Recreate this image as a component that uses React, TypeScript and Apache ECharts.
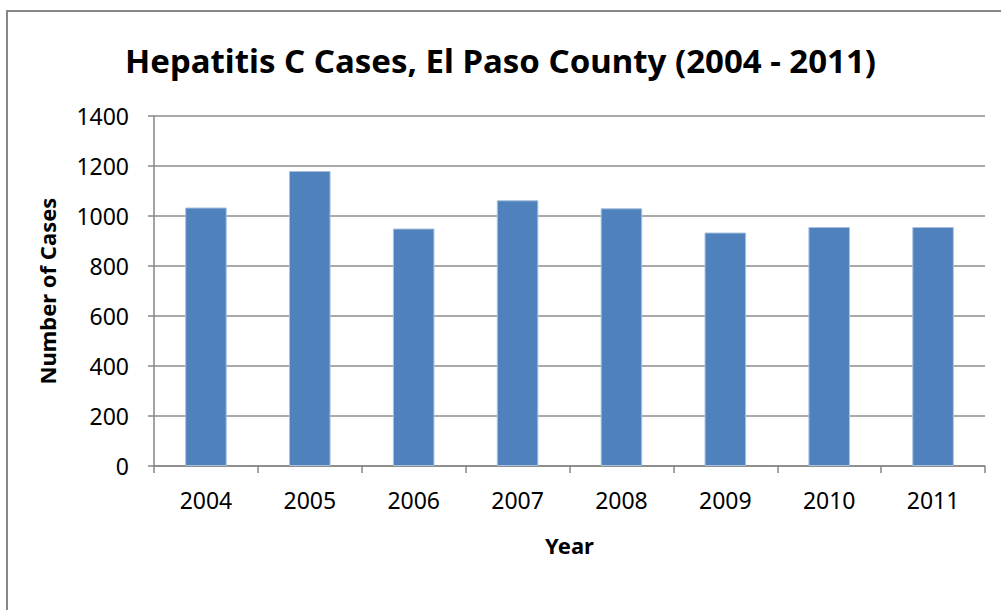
import React, { useEffect, useRef } from "react";
import * as echarts from "echarts";

const years = ["2004", "2005", "2006", "2007", "2008", "2009", "2010", "2011"];
const cases = [1034, 1180, 950, 1063, 1031, 934, 956, 956];
const yTicks = { min: 0, max: 1400, interval: 200 };

export default function App() {
  const ref = useRef<HTMLDivElement>(null);
  useEffect(() => {
    const chart = echarts.init(ref.current!, null, { renderer: "svg" });
    const font = "'Noto Sans', sans-serif";
    chart.setOption({
      animation: false,
      backgroundColor: "#ffffff",
      title: {
        text: "Hepatitis C Cases, El Paso County (2004 - 2011)",
        left: "center",
        top: 39,
        textStyle: { fontFamily: font, fontWeight: "bold", fontSize: 33, color: "#000" },
      },
      graphic: [
        {
          type: "rect",
          shape: { x: 7, y: 11, width: 1010, height: 620 },
          style: { fill: "none", stroke: "#878787", lineWidth: 2 },
          silent: true,
        },
      ],
      grid: { left: 154, right: 16, top: 116, bottom: 144, containLabel: false },
      xAxis: {
        type: "category",
        data: years,
        name: "Year",
        nameLocation: "middle",
        nameGap: 68,
        nameTextStyle: { fontFamily: font, fontWeight: "bold", fontSize: 22, color: "#000" },
        axisLine: { lineStyle: { color: "#868686", width: 1.5 } },
        axisTick: { show: true, alignWithLabel: false, length: 7, lineStyle: { color: "#868686", width: 1.5 } },
        axisLabel: { fontFamily: font, fontSize: 23, color: "#000", margin: 22 },
      },
      yAxis: {
        type: "value",
        min: yTicks.min,
        max: yTicks.max,
        interval: yTicks.interval,
        name: "Number of Cases",
        nameLocation: "middle",
        nameRotate: 90,
        nameGap: 96,
        nameTextStyle: { fontFamily: font, fontWeight: "bold", fontSize: 22, color: "#000" },
        axisLine: { show: true, lineStyle: { color: "#868686", width: 1.5 } },
        axisTick: { show: true, length: 6, lineStyle: { color: "#868686", width: 1.5 } },
        axisLabel: { fontFamily: font, fontSize: 23, color: "#000", margin: 25, formatter: (v: number) => String(v) },
        splitLine: { show: true, lineStyle: { color: "#8c8c8c", width: 1.5 } },
      },
      series: [
        {
          type: "bar",
          data: cases,
          barWidth: "40%",
          itemStyle: { color: "#4f81bd", borderColor: "#a9c1df", borderWidth: 1 },
        },
      ],
    });
    return () => chart.dispose();
  }, []);
  return (
    <div
      ref={ref}
      style={{ position: "fixed", left: 0, top: 0, width: 1001, height: 610 }}
    />
  );
}
